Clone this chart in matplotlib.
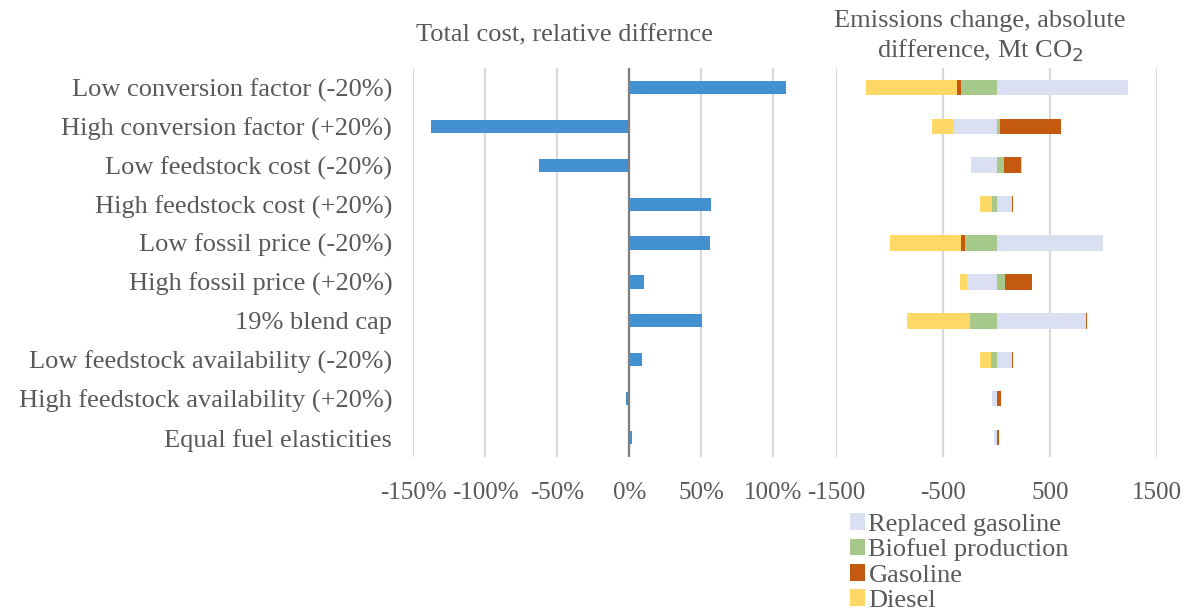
import numpy as np
import matplotlib.pyplot as plt
from matplotlib.patches import Patch

plt.rcParams['font.family'] = ['Liberation Serif', 'DejaVu Serif']
plt.rcParams['axes.unicode_minus'] = False

scenarios = [
    "Low conversion factor (-20%)",
    "High conversion factor (+20%)",
    "Low feedstock cost (-20%)",
    "High feedstock cost (+20%)",
    "Low fossil price (-20%)",
    "High fossil price (+20%)",
    "19% blend cap",
    "Low feedstock availability (-20%)",
    "High feedstock availability (+20%)",
    "Equal fuel elasticities",
]

# total cost, relative difference to the base case
cost_change = [1.09, -1.375, -0.625, 0.57, 0.56, 0.104, 0.507, 0.087, -0.02, 0.02]

# emissions change by component, Mt CO2
replaced_gasoline = [1229, -394, -238, 143, 991, -274, 838, 146, -45, -20]
biofuel_production = [-329, 37, 73, -44, -299, 84, -252, -47, 4, 2]
gasoline = [-40, 563, 159, 9, -37, 252, 4, 12, 35, 20]
diesel = [-853, -209, 6, -106, -664, -65, -589, -106, 0, 3]

series_names = ["Replaced gasoline", "Biofuel production", "Gasoline", "Diesel"]
series_colors = ["#DAE0F1", "#A6C98B", "#C45A10", "#FFD865"]

text_col = "#595959"
grid_col = "#D9D9D9"

fig = plt.figure(figsize=(11.89, 6.15), dpi=100)
W, H = 1189, 615

def px_axes(x0, x1, y0, y1):
    return fig.add_axes([x0 / W, 1 - y1 / H, (x1 - x0) / W, (y1 - y0) / H])

y = np.arange(len(scenarios))

# left panel: total cost
ax1 = px_axes(413, 795, 68, 457)
ax1.barh(y, cost_change, height=0.34, color="#4391D0", zorder=3)
ax1.set_xlim(-1.5, 1.15)
ax1.set_ylim(len(scenarios) - 0.5, -0.5)
ax1.set_xticks([-1.5, -1.0, -0.5, 0.0, 0.5, 1.0])
ax1.set_xticklabels([f"{v:.0%}" for v in [-1.5, -1.0, -0.5, 0.0, 0.5, 1.0]])
ax1.xaxis.grid(True, color=grid_col, lw=1.6, zorder=0)
ax1.axvline(0, color="#7F7F7F", lw=1.6, zorder=4)
ax1.set_yticks(y)
ax1.set_yticklabels(scenarios)
ax1.tick_params(axis="y", length=0, pad=15, labelsize=19, labelcolor=text_col)
ax1.tick_params(axis="x", length=0, pad=18, labelsize=18, labelcolor=text_col)
for s in ax1.spines.values():
    s.set_visible(False)

# right panel: emissions, stacked with positives and negatives kept apart
ax2 = px_axes(836, 1157, 68, 457)
pos_base = np.zeros(len(scenarios))
neg_base = np.zeros(len(scenarios))
for vals, name, col in zip([replaced_gasoline, biofuel_production, gasoline, diesel],
                           series_names, series_colors):
    vals = np.array(vals, dtype=float)
    left = np.where(vals >= 0, pos_base, neg_base)
    ax2.barh(y, vals, left=left, height=0.4, color=col, label=name, zorder=3)
    pos_base += np.clip(vals, 0, None)
    neg_base += np.clip(vals, None, 0)
ax2.set_xlim(-1500, 1500)
ax2.set_ylim(len(scenarios) - 0.5, -0.5)
ax2.set_xticks([-1500, -500, 500, 1500])
ax2.xaxis.grid(True, color=grid_col, lw=1.6, zorder=0)
ax2.set_yticks([])
ax2.tick_params(axis="x", length=0, pad=18, labelsize=18, labelcolor=text_col)
for s in ax2.spines.values():
    s.set_visible(False)

fig.text(565 / W, 1 - 35 / H, "Total cost, relative differnce", fontsize=19,
         color=text_col, ha="center", va="center")
fig.text(980 / W, 1 - 37 / H, "Emissions change, absolute\ndifference, Mt CO$_2$",
         fontsize=19, color=text_col, ha="center", va="center",
         multialignment="center", linespacing=1.32)

handles = [Patch(facecolor=c, edgecolor="none") for c in series_colors]
leg = fig.legend(handles, series_names, loc="upper left",
                 bbox_to_anchor=(850 / W, 1 - 513 / H), frameon=False,
                 fontsize=19, handlelength=0.55, handleheight=0.6,
                 handletextpad=0.15, labelspacing=0.1, borderpad=0,
                 borderaxespad=0)
for t in leg.get_texts():
    t.set_color(text_col)

fig.savefig("out.png", dpi=100)
